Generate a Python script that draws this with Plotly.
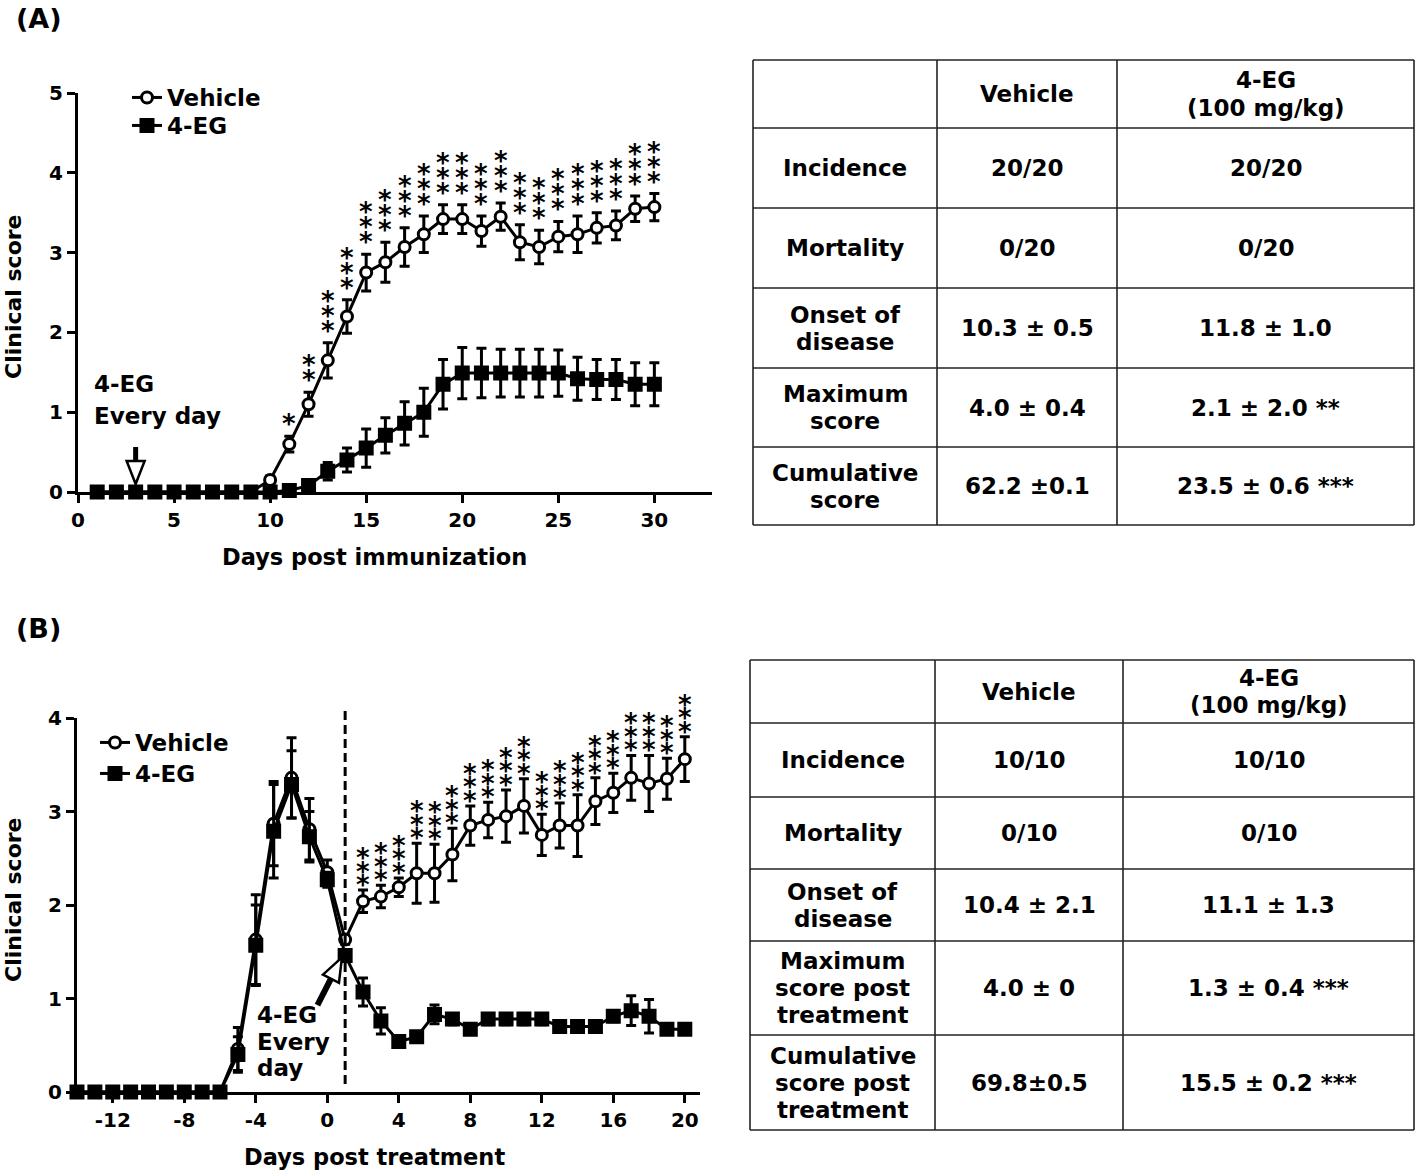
import math
import plotly.graph_objects as go

FONT = "DejaVu Sans"

# ---------------- Panel A data ----------------
A_DAYS = [1, 2, 3, 4, 5, 6, 7, 8, 9, 10, 11, 12, 13, 14, 15, 16, 17, 18, 19, 20,
          21, 22, 23, 24, 25, 26, 27, 28, 29, 30]
A_VEH = [0, 0, 0, 0, 0, 0, 0, 0, 0, 0.15, 0.6, 1.1, 1.65, 2.2, 2.75, 2.88, 3.07, 3.23, 3.42, 3.42,
         3.27, 3.45, 3.13, 3.07, 3.2, 3.23, 3.31, 3.34, 3.55, 3.57]
A_VEH_ERR = [0, 0, 0, 0, 0, 0, 0, 0, 0, 0.05, 0.1, 0.15, 0.22, 0.21, 0.23, 0.25, 0.24, 0.23, 0.18, 0.18,
             0.19, 0.17, 0.22, 0.21, 0.19, 0.23, 0.19, 0.18, 0.16, 0.17]
A_EG = [0, 0, 0, 0, 0, 0, 0, 0, 0, 0, 0.02, 0.08, 0.26, 0.4, 0.55, 0.71, 0.86, 1.0, 1.35, 1.49,
        1.49, 1.49, 1.49, 1.49, 1.49, 1.42, 1.41, 1.41, 1.35, 1.35]
A_EG_ERR = [0, 0, 0, 0, 0, 0, 0, 0, 0, 0, 0.03, 0.05, 0.11, 0.15, 0.24, 0.22, 0.27, 0.3, 0.31, 0.32,
            0.31, 0.3, 0.3, 0.3, 0.29, 0.27, 0.25, 0.25, 0.27, 0.27]
A_STARS = [0, 0, 0, 0, 0, 0, 0, 0, 0, 0, 1, 2, 3, 3, 3, 3, 3, 3, 3, 3,
           3, 3, 3, 3, 3, 3, 3, 3, 3, 3]
A_XTICKS = [0, 5, 10, 15, 20, 25, 30]
A_YTICKS = [0, 1, 2, 3, 4, 5]
A_ARROW_DAY = 3

# ---------------- Panel B data ----------------
B_DAYS = [-14, -13, -12, -11, -10, -9, -8, -7, -6, -5, -4, -3, -2, -1, 0, 1, 2, 3, 4, 5,
          6, 7, 8, 9, 10, 11, 12, 13, 14, 15, 16, 17, 18, 19, 20]
B_VEH = [0, 0, 0, 0, 0, 0, 0, 0, 0, 0.46, 1.63, 2.87, 3.36, 2.81, 2.35, 1.63, 2.04, 2.09, 2.19, 2.34,
         2.34, 2.54, 2.85, 2.91, 2.95, 3.06, 2.75, 2.85, 2.85, 3.11, 3.2, 3.36, 3.3, 3.35, 3.56]
B_VEH_ERR = [0, 0, 0, 0, 0, 0, 0, 0, 0, 0.23, 0.48, 0.45, 0.43, 0.33, 0.13, 0.05, 0.12, 0.12, 0.1, 0.32,
             0.31, 0.28, 0.21, 0.19, 0.28, 0.29, 0.22, 0.24, 0.33, 0.25, 0.21, 0.24, 0.3, 0.22, 0.24]
B_EG = [0, 0, 0, 0, 0, 0, 0, 0, 0, 0.4, 1.57, 2.79, 3.29, 2.73, 2.27, 1.46, 1.07, 0.76, 0.54, 0.59,
        0.83, 0.78, 0.67, 0.78, 0.78, 0.78, 0.78, 0.7, 0.7, 0.7, 0.81, 0.87, 0.81, 0.67, 0.67]
B_EG_ERR = [0, 0, 0, 0, 0, 0, 0, 0, 0, 0.19, 0.43, 0.5, 0.36, 0.27, 0.08, 0.06, 0.15, 0.14, 0.04, 0.04,
            0.1, 0.06, 0.05, 0.06, 0.06, 0.06, 0.06, 0.05, 0.05, 0.05, 0.06, 0.16, 0.18, 0.05, 0.05]
B_STARS = [0, 0, 0, 0, 0, 0, 0, 0, 0, 0, 0, 0, 0, 0, 0, 0, 3, 3, 3, 3,
           3, 3, 3, 3, 3, 3, 3, 3, 3, 3, 3, 3, 3, 3, 3]
B_XTICKS = [-12, -8, -4, 0, 4, 8, 12, 16, 20]
B_XTICK_LABELS = ["-12", "-8", "-4", "0", "4", "8", "12", "16", "20"]
B_YTICKS = [0, 1, 2, 3, 4]
B_TREAT_DAY = 1

# ---------------- Tables ----------------
TABLE_A_HEADER = ["", "Vehicle", "4-EG<br>(100 mg/kg)"]
TABLE_A_ROWS = ["Incidence", "Mortality", "Onset of<br>disease", "Maximum<br>score", "Cumulative<br>score"]
TABLE_A_VEH = ["20/20", "0/20", "10.3 ± 0.5", "4.0 ± 0.4", "62.2 ±0.1"]
TABLE_A_EG = ["20/20", "0/20", "11.8 ± 1.0", "2.1 ± 2.0 **", "23.5 ± 0.6 ***"]

TABLE_B_HEADER = ["", "Vehicle", "4-EG<br>(100 mg/kg)"]
TABLE_B_ROWS = ["Incidence", "Mortality", "Onset of<br>disease", "Maximum<br>score post<br>treatment",
                "Cumulative<br>score post<br>treatment"]
TABLE_B_VEH = ["10/10", "0/10", "10.4 ± 2.1", "4.0 ± 0", "69.8±0.5"]
TABLE_B_EG = ["10/10", "0/10", "11.1 ± 1.3", "1.3 ± 0.4 ***", "15.5 ± 0.2 ***"]

# ---------------- page geometry ----------------
W, H = 1418, 1172


def fx(px):
    return px / W


def fy(py):
    return 1 - py / H


A_XRANGE = [0, 33]
A_YRANGE = [0, 5]
A_PX = (78, 712, 492, 93)   # left, right, bottom, top in page pixels
B_XRANGE = [-14, 20.85]
B_YRANGE = [0, 4]
B_PX = (77, 700, 1092, 718)

BOLD = dict(family=FONT, color="black", weight="bold")

fig = go.Figure()


def add_series(days, vals, errs, name, symbol, xa, ya, legend, msize, mfill, mline):
    fig.add_trace(go.Scatter(
        x=days, y=vals, name=name, mode="lines+markers",
        xaxis=xa, yaxis=ya, legend=legend, cliponaxis=False,
        line=dict(color="black", width=3),
        marker=dict(symbol=symbol, size=msize, color=mfill,
                    line=dict(color="black", width=mline)),
        error_y=dict(type="data", array=errs, visible=True, color="black",
                     thickness=3, width=5),
    ))


add_series(A_DAYS, A_VEH, A_VEH_ERR, "Vehicle", "circle", "x", "y", "legend", 11, "white", 3)
add_series(A_DAYS, A_EG, A_EG_ERR, "4-EG", "square", "x", "y", "legend3", 13, "black", 2)
add_series(B_DAYS, B_VEH, B_VEH_ERR, "Vehicle", "circle", "x2", "y2", "legend2", 11, "white", 3)
add_series(B_DAYS, B_EG, B_EG_ERR, "4-EG", "square", "x2", "y2", "legend4", 13, "black", 2)

axis_common = dict(showline=True, linewidth=3, linecolor="black", ticks="outside",
                   ticklen=8, tickwidth=3, tickcolor="black", showgrid=False,
                   zeroline=False, tickfont=dict(size=20, **BOLD), fixedrange=True,
                   automargin=False)

fig.update_layout(
    xaxis=dict(domain=[fx(A_PX[0]), fx(A_PX[1])], range=A_XRANGE, tickvals=A_XTICKS,
               anchor="y", **axis_common),
    yaxis=dict(domain=[fy(A_PX[2]), fy(A_PX[3])], range=A_YRANGE, tickvals=A_YTICKS,
               anchor="x", **axis_common),
    xaxis2=dict(domain=[fx(B_PX[0]), fx(B_PX[1])], range=B_XRANGE, tickvals=B_XTICKS,
                ticktext=B_XTICK_LABELS, anchor="y2", **axis_common),
    yaxis2=dict(domain=[fy(B_PX[2]), fy(B_PX[3])], range=B_YRANGE, tickvals=B_YTICKS,
                anchor="x2", **axis_common),
)

annotations = []
shapes = []


def star_stacks(days, vals, errs, counts, xa, ya, base, step):
    for d, v, e, n in zip(days, vals, errs, counts):
        for k in range(n):
            annotations.append(dict(x=d, y=v + e, xref=xa, yref=ya, text="*", showarrow=False,
                                    yanchor="middle", xanchor="center", yshift=base + k * step,
                                    font=dict(family=FONT, size=26, color="black", weight="bold")))


star_stacks(A_DAYS, A_VEH, A_VEH_ERR, A_STARS, "x", "y", 12, 15)
star_stacks(B_DAYS, B_VEH, B_VEH_ERR, B_STARS, "x2", "y2", 5, 13.5)


def text(px, py, s, size=22, xanchor="center", angle=0, weight="bold"):
    annotations.append(dict(x=fx(px), y=fy(py), xref="paper", yref="paper", text=s,
                            showarrow=False, xanchor=xanchor, yanchor="middle", textangle=angle,
                            font=dict(family=FONT, size=size, color="black", weight=weight)))


# panel labels and axis titles
text(14, 18, "(A)", size=27, xanchor="left")
text(14, 628, "(B)", size=27, xanchor="left")
text(375, 557, "Days post immunization", size=22.5)
text(13, 297, "Clinical score", size=22, angle=-90)
text(375, 1157, "Days post treatment", size=22.5)
text(13, 900, "Clinical score", size=22, angle=-90)

# treatment notes
text(92, 384, "4-EG", size=23, xanchor="left")
text(92, 416, "Every day", size=23, xanchor="left")
for i, s in enumerate(["4-EG", "Every", "day"]):
    text(255, 1015 + i * 26.5, s, size=23, xanchor="left")

# arrow in panel A (hollow head, pointing down at the treatment start)
a_ppx = (A_PX[1] - A_PX[0]) / (A_XRANGE[1] - A_XRANGE[0])
a_ppy = (A_PX[2] - A_PX[3]) / (A_YRANGE[1] - A_YRANGE[0])
tip_y = 8 / a_ppy
base_y = 31 / a_ppy
top_y = 45 / a_ppy
half_w = 9 / a_ppx
shapes.append(dict(type="line", xref="x", yref="y", x0=A_ARROW_DAY, x1=A_ARROW_DAY,
                   y0=top_y, y1=base_y, line=dict(color="black", width=5)))
shapes.append(dict(type="path", xref="x", yref="y",
                   path=f"M {A_ARROW_DAY - half_w},{base_y} L {A_ARROW_DAY + half_w},{base_y} "
                        f"L {A_ARROW_DAY},{tip_y} Z",
                   fillcolor="white", line=dict(color="black", width=2.5)))

# arrow in panel B (diagonal, hollow head) toward the first treatment day point
b_ppx = (B_PX[1] - B_PX[0]) / (B_XRANGE[1] - B_XRANGE[0])
b_ppy = (B_PX[2] - B_PX[3]) / (B_YRANGE[1] - B_YRANGE[0])
tail = (-0.55, 0.93)
tip = (0.82, 1.44)
dxp = (tip[0] - tail[0]) * b_ppx
dyp = (tip[1] - tail[1]) * b_ppy
L = math.hypot(dxp, dyp)
ux, uy = dxp / L, dyp / L
nx, ny = -uy, ux
head_len, head_w = 24, 9
bx = tip[0] - head_len * ux / b_ppx
by = tip[1] - head_len * uy / b_ppy
shapes.append(dict(type="line", xref="x2", yref="y2", x0=tail[0], y0=tail[1], x1=bx, y1=by,
                   line=dict(color="black", width=6)))
c1 = (bx + head_w * nx / b_ppx, by + head_w * ny / b_ppy)
c2 = (bx - head_w * nx / b_ppx, by - head_w * ny / b_ppy)
shapes.append(dict(type="path", xref="x2", yref="y2",
                   path=f"M {c1[0]},{c1[1]} L {c2[0]},{c2[1]} L {tip[0]},{tip[1]} Z",
                   fillcolor="white", line=dict(color="black", width=2.5)))

# dashed treatment line in panel B
shapes.append(dict(type="line", xref="x2", yref="paper", x0=B_TREAT_DAY, x1=B_TREAT_DAY,
                   y0=fy(1084), y1=fy(708), line=dict(color="black", width=3, dash="9px,5px")))


# ---------------- tables ----------------
def draw_table(cols_px, rows_px, header, row_labels, veh, eg, spacing):
    lc = dict(color="#222222", width=1.6)
    for xp in cols_px:
        shapes.append(dict(type="line", xref="paper", yref="paper", x0=fx(xp), x1=fx(xp),
                           y0=fy(rows_px[0]), y1=fy(rows_px[-1]), line=lc))
    for yp in rows_px:
        shapes.append(dict(type="line", xref="paper", yref="paper", x0=fx(cols_px[0]),
                           x1=fx(cols_px[-1]), y0=fy(yp), y1=fy(yp), line=lc))
    grid = [header] + [[r, v, e] for r, v, e in zip(row_labels, veh, eg)]
    for ri, row in enumerate(grid):
        cy = (rows_px[ri] + rows_px[ri + 1]) / 2
        for ci, cell in enumerate(row):
            if not cell:
                continue
            cx = (cols_px[ci] + cols_px[ci + 1]) / 2
            lines = cell.split("<br>")
            n = len(lines)
            for li, s in enumerate(lines):
                text(cx, cy + (li - (n - 1) / 2) * spacing, s, size=23)


draw_table([753, 937, 1117, 1414], [60, 128, 208, 288, 368, 447, 525],
           TABLE_A_HEADER, TABLE_A_ROWS, TABLE_A_VEH, TABLE_A_EG, 27)
draw_table([750, 935, 1123, 1414], [660, 723, 797, 869, 941, 1035, 1130],
           TABLE_B_HEADER, TABLE_B_ROWS, TABLE_B_VEH, TABLE_B_EG, 27)

legend_font = dict(size=23, **BOLD)


def legend_at(px, top_py):
    return dict(x=fx(px), y=fy(top_py), xanchor="left", yanchor="top", font=legend_font,
                bgcolor="rgba(0,0,0,0)", borderwidth=0)


fig.update_layout(
    width=W, height=H, autosize=False,
    margin=dict(l=0, r=0, t=0, b=0, autoexpand=False),
    paper_bgcolor="white", plot_bgcolor="white",
    annotations=annotations, shapes=shapes,
    showlegend=True,
    legend=legend_at(127, 76),
    legend3=legend_at(127, 104),
    legend2=legend_at(95, 721),
    legend4=legend_at(95, 752),
)

fig.write_html("out.html", config={"displayModeBar": False, "staticPlot": True},
               post_script="document.body.style.margin='0px';")
